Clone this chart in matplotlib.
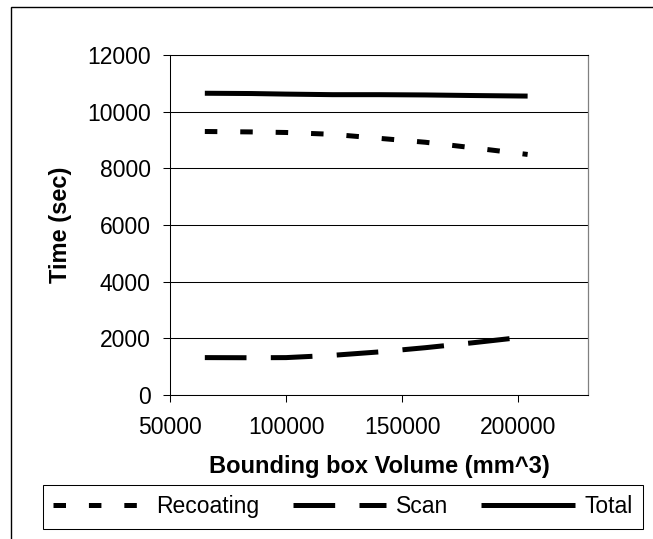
import matplotlib
matplotlib.use("Agg")
import matplotlib.pyplot as plt
from matplotlib.patches import Rectangle

plt.rcParams['font.family'] = ['Liberation Sans', 'DejaVu Sans']
plt.rcParams['lines.scale_dashes'] = False

# Data
volume = [65000, 85000, 100000, 120000, 140000, 160000, 180000, 204000]
recoating = [9300, 9285, 9265, 9200, 9060, 8920, 8730, 8490]
scan = [1320, 1315, 1320, 1400, 1520, 1670, 1840, 2060]
total = [10650, 10640, 10620, 10600, 10600, 10590, 10570, 10550]
series_names = ["Recoating", "Scan", "Total"]
x_ticks = [50000, 100000, 150000, 200000]
y_ticks = [0, 2000, 4000, 6000, 8000, 10000, 12000]

W, H = 653, 539
fig = plt.figure(figsize=(W / 100, H / 100), dpi=100)
ax = fig.add_axes([170 / W, 1 - 395 / H, (588 - 170) / W, (395 - 55) / H])

lw = 3.6
ax.plot(volume, recoating, color='black', lw=lw, dashes=(9, 16.5),
        solid_capstyle='butt', label=series_names[0])
ax.plot(volume, scan, color='black', lw=lw, dashes=(30, 17.5),
        label=series_names[1])
ax.plot(volume, total, color='black', lw=lw, solid_capstyle='butt',
        label=series_names[2])

ax.set_xlim(50000, 230000)
ax.set_ylim(0, 12000)
ax.set_xticks(x_ticks)
ax.set_xticklabels([str(v) for v in x_ticks])
ax.set_yticks(y_ticks)
ax.set_yticklabels([str(v) for v in y_ticks])
ax.tick_params(axis='both', direction='out', length=5, width=0.75,
               labelsize=16.5, color='black')
ax.tick_params(axis='y', pad=9)
ax.tick_params(axis='x', pad=10)

ax.grid(axis='y', color='black', lw=0.75)
ax.set_axisbelow(True)
for s in ['left', 'bottom', 'top']:
    ax.spines[s].set_color('black')
    ax.spines[s].set_linewidth(0.75)
ax.spines['right'].set_color('#808080')
ax.spines['right'].set_linewidth(0.9)

ax.set_xlabel("Bounding box Volume (mm^3)", fontsize=17, fontweight='bold')
ax.xaxis.set_label_coords(0.5, (395 - 466) / 340)
ax.xaxis.label.set_verticalalignment('center')
ax.set_ylabel("Time (sec)", fontsize=17, fontweight='bold')
ax.yaxis.set_label_coords((60 - 170) / 418, 0.5)
ax.yaxis.label.set_verticalalignment('center')

leg = ax.legend(loc='center', bbox_to_anchor=(343 / W, 1 - 506.8 / H),
                bbox_transform=fig.transFigure, ncol=3, fontsize=16.5,
                handlelength=4.06, handletextpad=0.45, columnspacing=1.45,
                borderpad=0.45, fancybox=False, framealpha=1,
                edgecolor='black')
leg.get_frame().set_linewidth(0.75)

# outer chart border (clipped at right and bottom like the reference)
fig.patches.append(Rectangle((11 / W, -0.1), 1.2, 1.1 - 7 / H,
                             transform=fig.transFigure, fill=False,
                             edgecolor='black', lw=1.0, clip_on=False))

fig.savefig("out.png", dpi=100)
